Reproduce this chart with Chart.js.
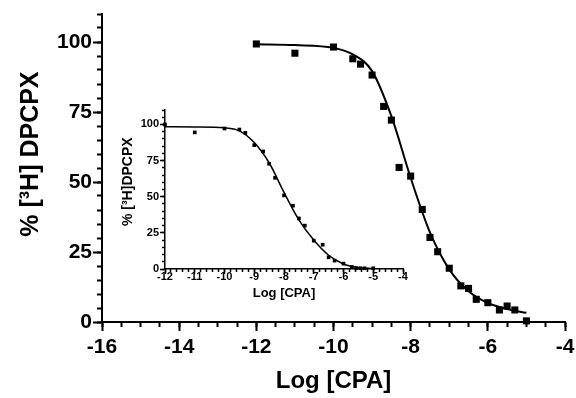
<!DOCTYPE html>
<html>
<head>
<meta charset="utf-8">
<script src="https://cdn.jsdelivr.net/npm/chart.js@4.4.0/dist/chart.umd.min.js"></script>
<style>
    html, body { margin: 0; padding: 0; background: #fff; }
    #wrap { position: relative; width: 576px; height: 398px; }
    #mainChart { position: absolute; left: 0; top: 0; }
    #insetChart { position: absolute; left: 110px; top: 100px; }
</style>
</head>
<body>
<div id="wrap">
    <canvas id="mainChart" width="576" height="398"></canvas>
    <canvas id="insetChart" width="305" height="204"></canvas>
</div>
<script>
// Main plot data (log [CPA] vs % bound)
const mainLogCpa = [-12, -11, -10, -9.5, -9.3, -9, -8.7, -8.5, -8.3, -8, -7.7, -7.5, -7.3, -7, -6.7, -6.5, -6.3, -6, -5.7, -5.5, -5.3, -5];
const mainBound = [99.3, 96, 98.2, 94, 92.1, 88.2, 77, 72.1, 55.2, 52.1, 40.2, 30.2, 25.1, 19.2, 12.9, 12.0, 8.1, 6.9, 4.3, 5.7, 4.3, 0.4];

// Main fitted curve
const mainFitX = [-12, -11, -10, -9.5, -9, -8.5, -8, -7.5, -7, -6.5, -6, -5.5, -5];
const mainFitY = [99.2, 98.9, 97.9, 95.6, 89.6, 73.5, 51.5, 32.0, 18.8, 11.0, 6.8, 4.6, 3.3];

// Inset data
const insetLogCpa = [-12, -11, -10, -9.5, -9.3, -9, -8.7, -8.5, -8.3, -8, -7.7, -7.5, -7.3, -7, -6.7, -6.5, -6.3, -6, -5.72, -5.57, -5.43, -5.29, -5];
const insetBound = [100, 94.5, 97.2, 96.5, 94.2, 85.7, 81.3, 72.8, 63.1, 50.9, 43.8, 35.0, 30.0, 19.6, 16.8, 8.1, 5.8, 3.7, 1.4, 0.5, 0.5, 0.5, 0.5];

const insetFitX = [-12, -11, -10, -9.5, -9, -8.5, -8, -7.5, -7, -6.5, -6, -5.5, -5];
const insetFitY = [98.4, 98.3, 97.7, 95.6, 87.5, 73.5, 53, 34, 20, 9.5, 3.5, 1, 0.3];

// Axis ranges
const mainXRange = [-16, -4];
const mainYRange = [0, 110];
const insetXRange = [-12, -4];
const insetYRange = [0, 110];

Chart.defaults.font.family = "'Liberation Sans', Arial, sans-serif";
Chart.defaults.font.weight = 'bold';
Chart.defaults.color = '#000';

function toPoints(xs, ys) {
    return xs.map(function (x, i) {
        return { x: x, y: ys[i] };
    });
}

// force the box size of an axis so the plot area lands where it should
function fixSize(size) {
    return function (scale) {
        if (scale.isHorizontal()) {
            scale.height = size;
        } else {
            scale.width = size;
        }
        scale.paddingLeft = 0;
        scale.paddingRight = 0;
        scale.paddingTop = 0;
        scale.paddingBottom = 0;
    };
}

function buildScales(s) {
    return {
        x: {
            type: 'linear', position: 'bottom', weight: 1,
            min: s.xRange[0], max: s.xRange[1],
            ticks: { stepSize: s.xStep, padding: s.xPad, maxRotation: 0, autoSkip: false,
                     font: { size: s.tickFont, lineHeight: 1 } },
            grid: { drawOnChartArea: false, tickLength: s.major, tickWidth: s.lw, tickColor: '#000' },
            border: { color: '#000', width: s.lw },
            title: { display: true, text: 'Log [CPA]', font: { size: s.xTitleFont },
                     padding: { top: 0, bottom: s.xTitlePad } },
            afterFit: fixSize(s.xHeight)
        },
        xm: {
            type: 'linear', position: 'bottom', weight: 0,
            min: s.xRange[0], max: s.xRange[1],
            ticks: { display: false, stepSize: s.xMinor, autoSkip: false },
            grid: { drawOnChartArea: false, tickLength: s.minor, tickWidth: s.lw, tickColor: '#000' },
            border: { display: false },
            afterFit: fixSize(0)
        },
        y: {
            type: 'linear', position: 'left', weight: 1,
            min: s.yRange[0], max: s.yRange[1],
            ticks: { stepSize: 25, includeBounds: false, padding: 1,
                     font: { size: s.tickFont, lineHeight: 1 } },
            grid: { drawOnChartArea: false, tickLength: s.major, tickWidth: s.lw, tickColor: '#000' },
            border: { color: '#000', width: s.lw },
            title: { display: true, text: s.yTitle, font: { size: s.yTitleFont },
                     padding: { top: s.yTitlePad, bottom: 0 } },
            afterFit: fixSize(s.yWidth)
        },
        ym: {
            type: 'linear', position: 'left', weight: 0,
            min: s.yRange[0], max: s.yRange[1],
            ticks: { display: false, stepSize: 5, autoSkip: false },
            grid: { drawOnChartArea: false, tickLength: s.minor, tickWidth: s.lw, tickColor: '#000' },
            border: { display: false },
            afterFit: fixSize(0)
        }
    };
}

function buildDatasets(fitX, fitY, xs, ys, lineW, markR) {
    return [{
        label: 'fit',
        data: toPoints(fitX, fitY),
        showLine: true,
        borderColor: '#000',
        borderWidth: lineW,
        pointRadius: 0,
        cubicInterpolationMode: 'monotone',
        xAxisID: 'x', yAxisID: 'y'
    }, {
        label: 'data',
        data: toPoints(xs, ys),
        showLine: false,
        pointStyle: 'rect',
        pointRadius: markR,
        backgroundColor: '#000',
        borderColor: '#000',
        borderWidth: 0,
        clip: false,
        xAxisID: 'x', yAxisID: 'y'
    }];
}

// MAIN CHART
const mainChart = new Chart(document.getElementById('mainChart'), {
    type: 'scatter',
    data: { datasets: buildDatasets(mainFitX, mainFitY, mainLogCpa, mainBound, 2, 5) },
    options: {
        responsive: false,
        animation: false,
        layout: { padding: { top: 14, right: 11, bottom: 0, left: 10 } },
        plugins: { legend: { display: false }, tooltip: { enabled: false } },
        scales: buildScales({
            xRange: mainXRange, yRange: mainYRange,
            xStep: 2, xMinor: 0.5, xPad: 6,
            tickFont: 21, xTitleFont: 24, yTitleFont: 25,
            xTitlePad: 2, yTitlePad: 6,
            yTitle: '    % [³H] DPCPX',
            major: 9, minor: 5, lw: 2,
            xHeight: 76, yWidth: 92
        })
    }
});

// INSET CHART
const insetChart = new Chart(document.getElementById('insetChart'), {
    type: 'scatter',
    data: { datasets: buildDatasets(insetFitX, insetFitY, insetLogCpa, insetBound, 1.5, 2.6) },
    options: {
        responsive: false,
        animation: false,
        layout: { padding: { top: 10, right: 12, bottom: 0, left: 3 } },
        plugins: { legend: { display: false }, tooltip: { enabled: false } },
        scales: buildScales({
            xRange: insetXRange, yRange: insetYRange,
            xStep: 1, xMinor: 0.2, xPad: -3,
            tickFont: 11, xTitleFont: 13, yTitleFont: 14,
            xTitlePad: 3, yTitlePad: 7,
            yTitle: '    % [³H]DPCPX',
            major: 5, minor: 3, lw: 1.5,
            xHeight: 35, yWidth: 52
        })
    }
});
</script>
</body>
</html>
